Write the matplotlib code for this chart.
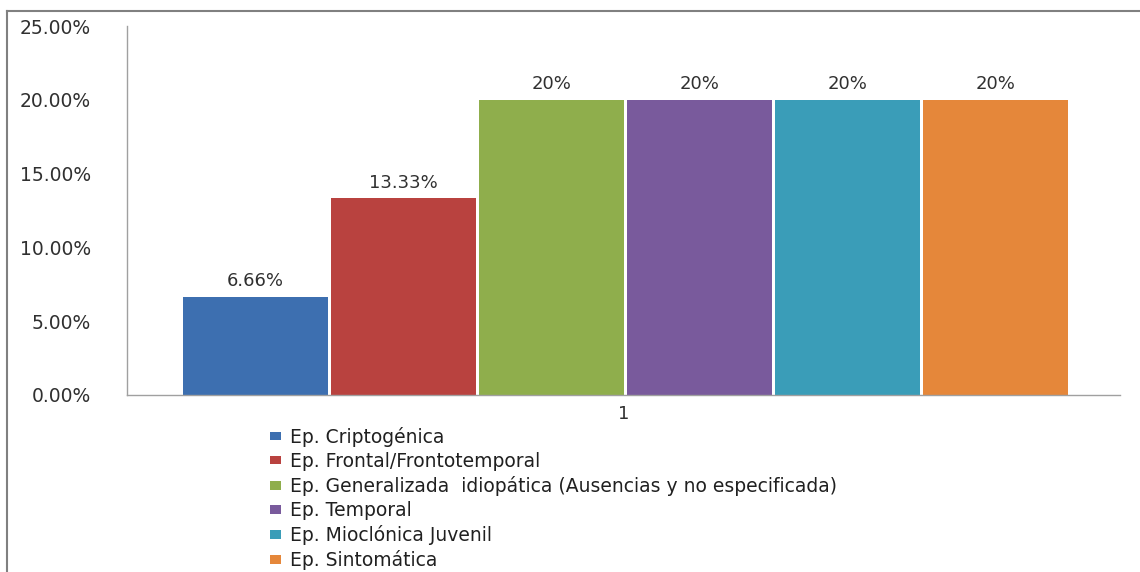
import numpy as np
import matplotlib.pyplot as plt
from matplotlib.lines import Line2D

# Distribution of epilepsy types (percentage of cases)
tipos = ['Ep. Criptogénica',
         'Ep. Frontal/Frontotemporal',
         'Ep. Generalizada  idiopática (Ausencias y no especificada)',
         'Ep. Temporal',
         'Ep. Mioclónica Juvenil',
         'Ep. Sintomática']
porcentajes = [6.66, 13.33, 20, 20, 20, 20]
etiquetas = ['6.66%', '13.33%', '20%', '20%', '20%', '20%']
colores = ['#3d6fb0', '#b9423f', '#8fae4c', '#795a9c', '#3a9db8', '#e5873a']
y_ticks = [0, 5, 10, 15, 20, 25]

plt.rcParams['font.family'] = 'sans-serif'
plt.rcParams['font.sans-serif'] = ['DejaVu Sans']

fig = plt.figure(figsize=(11.4, 5.72), dpi=100)
ax = fig.add_axes([127/1140, 1 - 395/572, (1120 - 127)/1140, (395 - 26)/572])

paso = 148/993
ancho = 145/993
n = len(porcentajes)
barras = []
for i, (v, c, lab) in enumerate(zip(porcentajes, colores, etiquetas)):
    x = (i - (n - 1)/2) * paso + 0.002
    b = ax.bar(x, v, width=ancho, color=c, edgecolor='none')
    barras.append(b[0])
    ax.text(x, v + 0.45, lab, ha='center', va='bottom', fontsize=13, color='#303030')

ax.set_xlim(-0.5, 0.5)
ax.set_ylim(0, 25)
ax.set_yticks(y_ticks)
ax.set_yticklabels([f'{t:.2f}%' for t in y_ticks])
ax.set_xticks([0])
ax.set_xticklabels(['1'])
ax.tick_params(axis='y', length=0, pad=26, labelsize=13.5, labelcolor='#303030')
ax.tick_params(axis='x', length=0, pad=7, labelsize=13, labelcolor='#303030')
for s in ['top', 'right']:
    ax.spines[s].set_visible(False)
for s in ['left', 'bottom']:
    ax.spines[s].set_color('#a0a0a0')
    ax.spines[s].set_linewidth(1.0)

fig.legend(barras, tipos, loc='upper left', bbox_to_anchor=(270/1140, 1 - 427/572),
           frameon=False, fontsize=13.5, handlelength=0.6, handleheight=0.3,
           handletextpad=0.45, labelspacing=0.27, borderaxespad=0, borderpad=0,
           labelcolor='#202020')

# outer frame lines (top and left)
fig.add_artist(Line2D([7/1140, 1], [1 - 11/572, 1 - 11/572], color='#808080', lw=1.5))
fig.add_artist(Line2D([7/1140, 7/1140], [0, 1 - 11/572], color='#808080', lw=1.5))

fig.savefig('out.png', dpi=100)
